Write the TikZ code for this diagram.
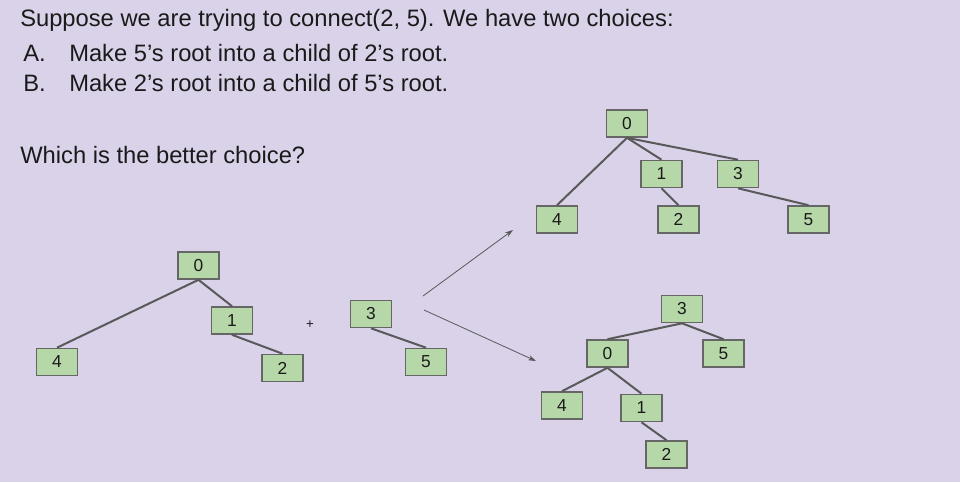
\documentclass[tikz,border=0pt]{standalone}
\usepackage{fontspec}
\setmainfont{Liberation Sans}
\usetikzlibrary{arrows.meta}
\definecolor{bgc}{HTML}{D9D2E9}
\definecolor{boxfill}{HTML}{B6D7A8}
\definecolor{boxline}{HTML}{666666}
\definecolor{edgec}{HTML}{595959}
\definecolor{txt}{HTML}{1A1A1A}
\tikzset{
  tn/.style={draw=boxline, fill=boxfill, line width=1.2pt, minimum width=30.75pt, minimum height=20.25pt, inner sep=0pt, font=\fontsize{13}{15}\selectfont, text=txt},
  te/.style={draw=edgec, line width=1.5pt},
  ar/.style={draw=edgec, line width=0.6pt, -{Stealth[length=6pt,width=4pt]}},
  ttl/.style={anchor=base west, inner sep=0pt, font=\fontsize{17.8}{20}\selectfont, text=txt}
}
\begin{document}
\begin{tikzpicture}[x=0.75pt,y=-0.75pt]
\fill[bgc] (0,0) rectangle (960,482);
\useasboundingbox (0,0) rectangle (960,482);
% text
\node[ttl] (t1) at (20,26) {Suppose we are trying to connect(2, 5). We have two choices:};
\node[ttl] (ta) at (23,61) {A.};
\node[ttl] (tam) at (69,61) {Make 5’s root into a child of 2’s root.};
\node[ttl] (tb) at (23,91) {B.};
\node[ttl] (tbm) at (69,91) {Make 2’s root into a child of 5’s root.};
\node[ttl] (tw) at (20,163) {Which is the better choice?};
% left tree
\node[tn] (l0) at (198.5,265.5) {0};
\node[tn] (l1) at (232,320.5) {1};
\node[tn] (l4) at (57,362) {4};
\node[tn] (l2) at (282.5,368) {2};
\draw[te] (l0.south) -- (l4.north);
\draw[te] (l0.south) -- (l1.north);
\draw[te] (l1.south) -- (l2.north);
\node[inner sep=0pt, font=\fontsize{10}{12}\selectfont, text=txt] (plus) at (310,325) {+};
\node[tn] (m3) at (371,314) {3};
\node[tn] (m5) at (426,362) {5};
\draw[te] (m3.south) -- (m5.north);
% top right tree
\node[tn] (a0) at (627,123.5) {0};
\node[tn] (a1) at (661.5,174) {1};
\node[tn] (a3) at (738,174) {3};
\node[tn] (a4) at (557,219.5) {4};
\node[tn] (a2) at (678.5,219.5) {2};
\node[tn] (a5) at (808.5,219.5) {5};
\draw[te] (a0.south) -- (a4.north);
\draw[te] (a0.south) -- (a1.north);
\draw[te] (a0.south) -- (a3.north);
\draw[te] (a1.south) -- (a2.north);
\draw[te] (a3.south) -- (a5.north);
% bottom right tree
\node[tn] (b3) at (682,309) {3};
\node[tn] (b0) at (607.5,353.5) {0};
\node[tn] (b5) at (723.5,353.5) {5};
\node[tn] (b4) at (562,405.5) {4};
\node[tn] (b1) at (641.5,408) {1};
\node[tn] (b2) at (666.5,454.5) {2};
\draw[te] (b3.south) -- (b0.north);
\draw[te] (b3.south) -- (b5.north);
\draw[te] (b0.south) -- (b4.north);
\draw[te] (b0.south) -- (b1.north);
\draw[te] (b1.south) -- (b2.north);
% arrows
\coordinate (s1) at (423,296);
\coordinate (e1) at (513,230);
\coordinate (s2) at (424,310);
\coordinate (e2) at (536,361);
\draw[ar] (s1) -- (e1);
\draw[ar] (s2) -- (e2);
\end{tikzpicture}
\end{document}
